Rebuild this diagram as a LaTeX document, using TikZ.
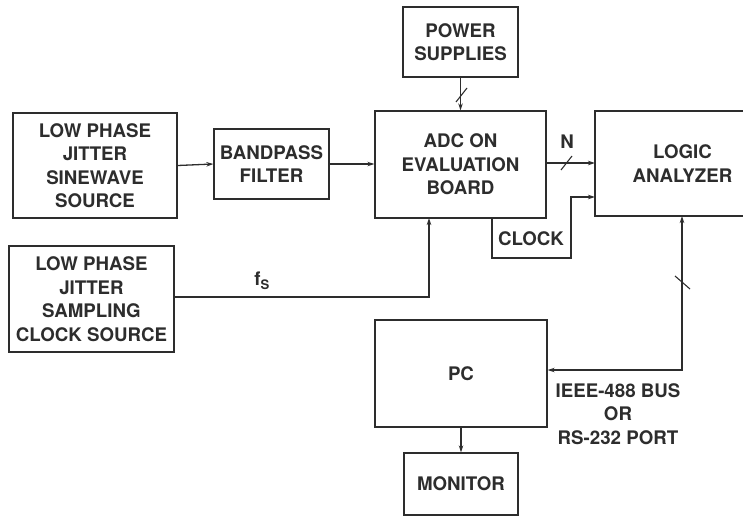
\documentclass[tikz,border=0pt]{standalone}
\usepackage{fontspec}
\setmainfont{TeX Gyre Heros}
\usepackage{tikz}
\usetikzlibrary{arrows.meta,positioning,calc}
\definecolor{inkgray}{RGB}{45,45,45}
\begin{document}
\begin{tikzpicture}[x=1pt,y=-1pt,
      blk/.style={draw=inkgray,line width=1.3pt,align=center,text=inkgray,
                  font=\fontsize{18.7}{23.5}\selectfont\bfseries,inner sep=0pt},
      lbl/.style={text=inkgray,font=\fontsize{18.7}{23.5}\selectfont\bfseries,align=center},
      arr/.style={-{Stealth[length=7pt,width=4.5pt]},line width=1.3pt,inkgray},
      wire/.style={line width=1.3pt,inkgray},
      slashmark/.style={line width=1.1pt,inkgray}]
      \useasboundingbox (0,0) rectangle (743,517);
      % Blocks
      \node[blk,minimum width=164pt,minimum height=105pt] (sine) at (95,165.5)
            {LOW PHASE\\JITTER\\SINEWAVE\\SOURCE};
      \node[blk,minimum width=115pt,minimum height=70pt]  (bpf)  at (271.5,164)
            {BANDPASS\\FILTER};
      \node[blk,minimum width=115pt,minimum height=70pt]  (pwr)  at (460.5,42)
            {POWER\\SUPPLIES};
      \node[blk,minimum width=171pt,minimum height=107pt] (adc)  at (460.5,164.5)
            {ADC ON\\EVALUATION\\BOARD};
      \node[blk,minimum width=175pt,minimum height=105pt] (logic) at (682.5,163.5)
            {LOGIC\\ANALYZER};
      \node[blk,minimum width=165pt,minimum height=106pt] (samp) at (91.5,299)
            {LOW PHASE\\JITTER\\SAMPLING\\CLOCK SOURCE};
      \node[blk,minimum width=172pt,minimum height=107pt] (pc)   at (461,373.5) {PC};
      \node[blk,minimum width=114pt,minimum height=62pt]  (mon)  at (461,484) {MONITOR};

      % Helper points
      \coordinate (fsin)  at (429,218);
      \coordinate (clkout) at (492,218);
      \coordinate (clkin)  at (595,197);
      \coordinate (busout) at (682,216);

      % Signal path
      \draw[arr] (sine.east) -- (bpf.west);
      \draw[arr] (bpf.east) -- (bpf.east -| adc.west);
      \draw[arr] (samp.east |- 0,297) -| (fsin);
      \node[lbl] (fs) at (262,281) {f\textsubscript{S}};

      % Power
      \draw[arr] (pwr.south) -- (adc.north);
      \draw[slashmark] (456,102) -- (467,88);

      % Data and clock to the analyzer
      \draw[arr] (546,163) -- (595,163);
      \draw[slashmark] (561,170) -- (572,156);
      \node[lbl] (nbits) at (567,142) {N};
      \draw[arr] (clkout) -- (492,258) -- (571,258) |- (clkin);
      \node[lbl] (clk) at (531,239) {CLOCK};

      % Bus to the PC
      \draw[{Stealth[length=7pt,width=4.5pt]}-{Stealth[length=7pt,width=4.5pt]},wire]
            (busout) |- (pc.east |- 0,370);
      \draw[slashmark] (675,276) -- (690,289);
      \node[lbl] (bus) at (618,414) {IEEE-488 BUS\\OR\\RS-232 PORT};
      \draw[arr] (pc.south) -- (mon.north);
    \end{tikzpicture}
\end{document}
